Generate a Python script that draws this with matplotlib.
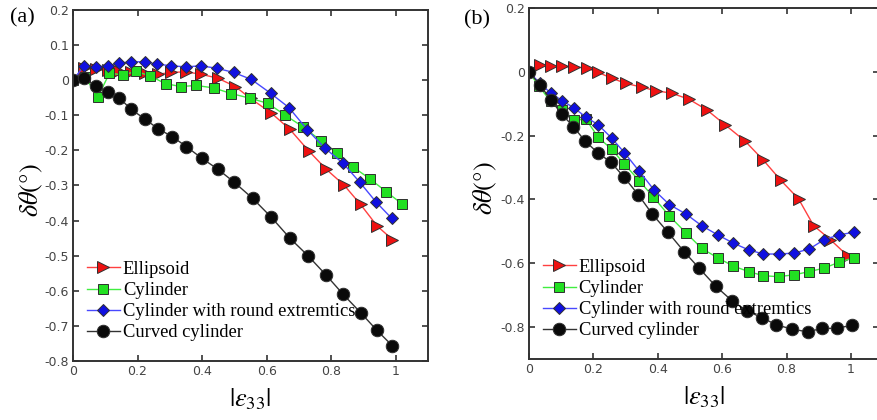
import matplotlib
matplotlib.use("Agg")
import matplotlib.pyplot as plt

# ---- panel (a) data ----
a_ell_x = [0, 0.034, 0.070, 0.108, 0.143, 0.180, 0.222, 0.263, 0.304, 0.350, 0.396,
           0.448, 0.503, 0.550, 0.615, 0.672, 0.731, 0.785, 0.840, 0.891, 0.943, 0.990]
a_ell_y = [0, 0.036, 0.031, 0.029, 0.027, 0.024, 0.020, 0.017, 0.022, 0.024, 0.017,
           0.006, -0.018, -0.052, -0.094, -0.140, -0.202, -0.254, -0.299, -0.354, -0.416, -0.454]

a_cyl_x = [0, 0.037, 0.077, 0.113, 0.154, 0.196, 0.239, 0.287, 0.334, 0.382, 0.436,
           0.490, 0.547, 0.604, 0.658, 0.713, 0.769, 0.817, 0.869, 0.920, 0.971, 1.019]
a_cyl_y = [0, 0.010, -0.048, 0.020, 0.015, 0.025, 0.012, -0.010, -0.018, -0.015, -0.022,
           -0.038, -0.051, -0.066, -0.100, -0.133, -0.173, -0.207, -0.248, -0.281, -0.318, -0.352]

a_rnd_x = [0, 0.034, 0.070, 0.108, 0.143, 0.180, 0.222, 0.260, 0.304, 0.350, 0.396,
           0.446, 0.498, 0.553, 0.612, 0.669, 0.726, 0.780, 0.837, 0.888, 0.939, 0.988]
a_rnd_y = [0, 0.041, 0.038, 0.041, 0.048, 0.053, 0.052, 0.046, 0.041, 0.038, 0.041,
           0.034, 0.022, 0.002, -0.037, -0.078, -0.141, -0.193, -0.237, -0.290, -0.347, -0.394]

a_cur_x = [0, 0.034, 0.070, 0.108, 0.143, 0.180, 0.222, 0.263, 0.308, 0.351, 0.400,
           0.448, 0.500, 0.557, 0.614, 0.672, 0.728, 0.783, 0.837, 0.891, 0.941, 0.990]
a_cur_y = [0, 0.006, -0.017, -0.033, -0.050, -0.083, -0.110, -0.138, -0.161, -0.189, -0.223,
           -0.253, -0.291, -0.337, -0.390, -0.450, -0.500, -0.554, -0.610, -0.662, -0.712, -0.757]

# ---- panel (b) data ----
b_ell_x = [0, 0.034, 0.068, 0.104, 0.141, 0.179, 0.215, 0.257, 0.300, 0.350, 0.393,
           0.443, 0.497, 0.552, 0.609, 0.671, 0.728, 0.782, 0.837, 0.884, 0.936, 0.991]
b_ell_y = [0, 0.022, 0.019, 0.017, 0.015, 0.012, -0.002, -0.020, -0.036, -0.048, -0.059,
           -0.067, -0.086, -0.119, -0.166, -0.217, -0.277, -0.340, -0.398, -0.482, -0.526, -0.578]

b_cyl_x = [0, 0.031, 0.068, 0.101, 0.140, 0.177, 0.215, 0.257, 0.296, 0.342, 0.386, 0.436,
           0.488, 0.536, 0.586, 0.635, 0.682, 0.728, 0.775, 0.824, 0.871, 0.917, 0.962, 1.008]
b_cyl_y = [0, -0.046, -0.093, -0.121, -0.151, -0.149, -0.205, -0.243, -0.289, -0.341, -0.392, -0.452,
           -0.505, -0.553, -0.583, -0.609, -0.626, -0.639, -0.642, -0.636, -0.626, -0.615, -0.597, -0.583]

b_rnd_x = [0, 0.034, 0.068, 0.104, 0.141, 0.177, 0.215, 0.257, 0.296, 0.342, 0.389, 0.436,
           0.488, 0.536, 0.586, 0.635, 0.682, 0.728, 0.777, 0.824, 0.871, 0.915, 0.962, 1.008]
b_rnd_y = [0, -0.036, -0.067, -0.091, -0.114, -0.142, -0.166, -0.208, -0.253, -0.311, -0.371, -0.416,
           -0.446, -0.482, -0.511, -0.537, -0.558, -0.571, -0.571, -0.568, -0.555, -0.527, -0.511, -0.503]

b_cur_x = [0, 0.034, 0.068, 0.101, 0.138, 0.174, 0.213, 0.255, 0.296, 0.340, 0.383, 0.431,
           0.482, 0.529, 0.580, 0.630, 0.676, 0.723, 0.768, 0.816, 0.865, 0.910, 0.956, 1.003]
b_cur_y = [0, -0.041, -0.088, -0.132, -0.172, -0.217, -0.253, -0.284, -0.331, -0.386, -0.446, -0.502,
           -0.564, -0.616, -0.672, -0.717, -0.749, -0.770, -0.793, -0.806, -0.815, -0.804, -0.804, -0.794]

labels = ["Ellipsoid", "Cylinder", "Cylinder with round extremtics", "Curved cylinder"]

plt.rcParams["mathtext.fontset"] = "stix"

# line color, marker, face color, marker size
styles = [
    ("#ff4040", ">", "#ee1111", 9),
    ("#40ee40", "s", "#22e022", 7),
    ("#4848ff", "D", "#1010e0", 6),
    ("#333333", "o", "#0a0a0a", 9),
]

SPINE = "#333333"
TICKC = "#444444"


def style_axes(ax, ylim, yticks, yticklabels, xmax):
    ax.set_xlim(0, xmax)
    ax.set_ylim(*ylim)
    ax.set_xticks([0, 0.2, 0.4, 0.6, 0.8, 1.0])
    ax.set_xticklabels(["0", "0.2", "0.4", "0.6", "0.8", "1"])
    ax.set_yticks(yticks)
    ax.set_yticklabels(yticklabels)
    ax.tick_params(direction="in", length=4, width=1.2, color=SPINE,
                   top=True, right=True, labelsize=9, labelcolor=TICKC, pad=3)
    for s in ax.spines.values():
        s.set_color(SPINE)
        s.set_linewidth(1.4)


def draw(ax, series):
    for (x, y), (lc, mk, fc, ms), lab in zip(series, styles, labels):
        ax.plot(x, y, color=lc, lw=1.0, marker=mk, ms=ms, mfc=fc,
                mec="#303030", mew=0.7, label=lab)


fig = plt.figure(figsize=(8.77, 4.20), dpi=100)
ax1 = fig.add_axes([73 / 877, 59 / 420, 355 / 877, 351 / 420])
ax2 = fig.add_axes([529 / 877, 61 / 420, 350 / 877, 351 / 420])

draw(ax1, [(a_ell_x, a_ell_y), (a_cyl_x, a_cyl_y), (a_rnd_x, a_rnd_y), (a_cur_x, a_cur_y)])
draw(ax2, [(b_ell_x, b_ell_y), (b_cyl_x, b_cyl_y), (b_rnd_x, b_rnd_y), (b_cur_x, b_cur_y)])

ya = [0.2, 0.1, 0, -0.1, -0.2, -0.3, -0.4, -0.5, -0.6, -0.7, -0.8]
style_axes(ax1, (-0.8, 0.2), ya, ["0.2", "0.1", "0", "-0.1", "-0.2", "-0.3", "-0.4",
                                  "-0.5", "-0.6", "-0.7", "-0.8"], 1.10)
yb = [0.2, 0, -0.2, -0.4, -0.6, -0.8]
style_axes(ax2, (-0.9, 0.2), yb, ["0.2", "0", "-0.2", "-0.4", "-0.6", "-0.8"], 1.087)

for ax, lx, ly, px, py, tag in [(ax1, -0.118, 0.487, 22, 18, "(a)"),
                                (ax2, -0.125, 0.487, 477, 20, "(b)")]:
    ax.text(lx, ly, r"$\delta\theta(°)$", transform=ax.transAxes, rotation=90,
            ha="center", va="center", fontsize=19)
    ax.text(0.5, -0.11, r"$|\varepsilon_{33}|$", transform=ax.transAxes,
            ha="center", va="center", fontsize=19)
    fig.text(px / 877, 1 - py / 420, tag, ha="center", va="center",
             fontsize=16, family="Liberation Serif")
    ax.legend(loc="upper left", bbox_to_anchor=(0.039, 0.285), frameon=False,
              prop={"family": "Liberation Serif", "size": 13.3},
              handlelength=1.8, handletextpad=0.15, labelspacing=0.22,
              borderpad=0, borderaxespad=0)

fig.savefig("out.png", dpi=100)
